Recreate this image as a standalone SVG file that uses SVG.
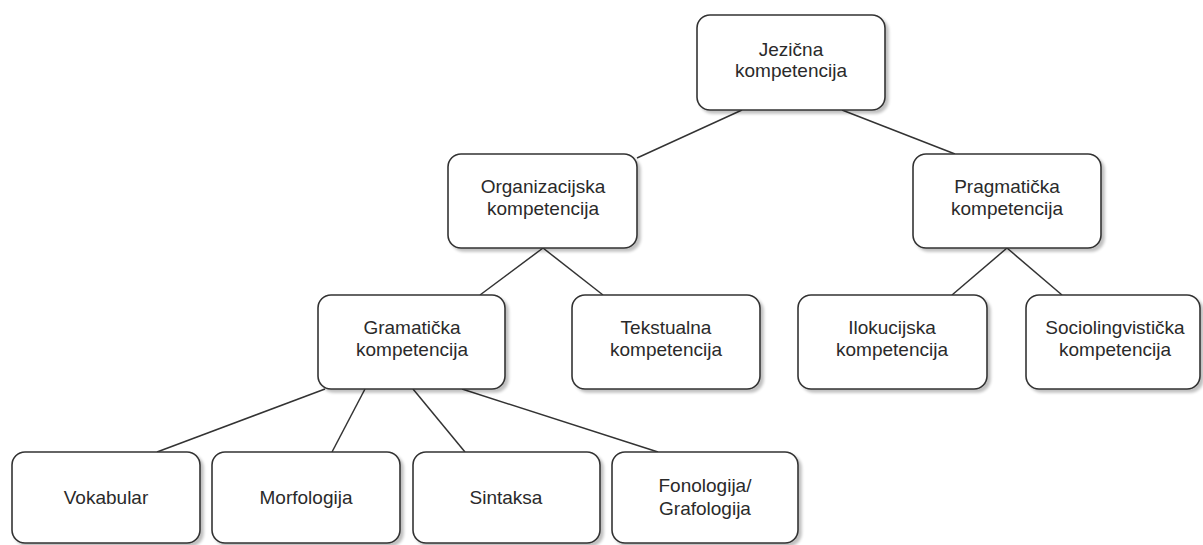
<svg xmlns="http://www.w3.org/2000/svg" width="1203" height="545" viewBox="0 0 1203 545">
<style>
.box{fill:#fff;stroke:#333;stroke-width:1.6;filter:url(#sh)}
.t{font-family:"Liberation Sans",Arial,sans-serif;font-size:19px;fill:#2a2a2a;text-anchor:middle}
.c line{stroke:#333;stroke-width:1.5}
</style>
<defs>
<filter id="sh" x="-10%" y="-10%" width="130%" height="130%">
<feGaussianBlur in="SourceAlpha" stdDeviation="1.5"/>
<feOffset dx="3" dy="3" result="b"/>
<feComponentTransfer><feFuncA type="linear" slope="0.25"/></feComponentTransfer>
<feMerge><feMergeNode/><feMergeNode in="SourceGraphic"/></feMerge>
</filter>
</defs>
<rect width="1203" height="545" fill="#fff"/>
<g class="c" id="connectors">
<line x1="742" y1="110" x2="637" y2="158"/>
<line x1="842" y1="110" x2="955" y2="154"/>
<line x1="543" y1="248" x2="480" y2="295"/>
<line x1="543" y1="248" x2="603" y2="295"/>
<line x1="1007" y1="248" x2="952" y2="295"/>
<line x1="1007" y1="248" x2="1062" y2="295"/>
<line x1="325" y1="389" x2="157" y2="452"/>
<line x1="365" y1="389" x2="332" y2="452"/>
<line x1="413" y1="389" x2="465" y2="452"/>
<line x1="462" y1="389" x2="658" y2="452"/>
</g>
<g id="n-root"><rect class="box" x="697" y="15" width="188" height="95" rx="13"/>
<text class="t" x="791" y="56">Jezična</text><text class="t" x="791" y="77">kompetencija</text></g>
<g id="n-org"><rect class="box" x="448" y="154" width="189" height="94" rx="13"/>
<text class="t" x="543" y="193">Organizacijska</text><text class="t" x="543" y="215">kompetencija</text></g>
<g id="n-prag"><rect class="box" x="913" y="154" width="188" height="94" rx="13"/>
<text class="t" x="1007" y="193">Pragmatička</text><text class="t" x="1007" y="215">kompetencija</text></g>
<g id="n-gram"><rect class="box" x="318" y="295" width="187" height="94" rx="13"/>
<text class="t" x="412" y="334">Gramatička</text><text class="t" x="412" y="356">kompetencija</text></g>
<g id="n-tek"><rect class="box" x="572" y="295" width="188" height="94" rx="13"/>
<text class="t" x="666" y="334">Tekstualna</text><text class="t" x="666" y="356">kompetencija</text></g>
<g id="n-ilok"><rect class="box" x="798" y="295" width="189" height="94" rx="13"/>
<text class="t" x="892" y="334">Ilokucijska</text><text class="t" x="892" y="356">kompetencija</text></g>
<g id="n-socio"><rect class="box" x="1026" y="295" width="174" height="94" rx="13"/>
<text class="t" x="1115" y="334">Sociolingvistička</text><text class="t" x="1115" y="356">kompetencija</text></g>
<g id="n-vok"><rect class="box" x="12" y="452" width="188" height="91" rx="13"/>
<text class="t" x="106" y="504">Vokabular</text></g>
<g id="n-morf"><rect class="box" x="212" y="452" width="188" height="91" rx="13"/>
<text class="t" x="306" y="504">Morfologija</text></g>
<g id="n-sint"><rect class="box" x="413" y="452" width="187" height="91" rx="13"/>
<text class="t" x="506" y="504">Sintaksa</text></g>
<g id="n-fono"><rect class="box" x="612" y="452" width="186" height="91" rx="13"/>
<text class="t" x="705" y="492">Fonologija/</text><text class="t" x="705" y="515">Grafologija</text></g>
</svg>
